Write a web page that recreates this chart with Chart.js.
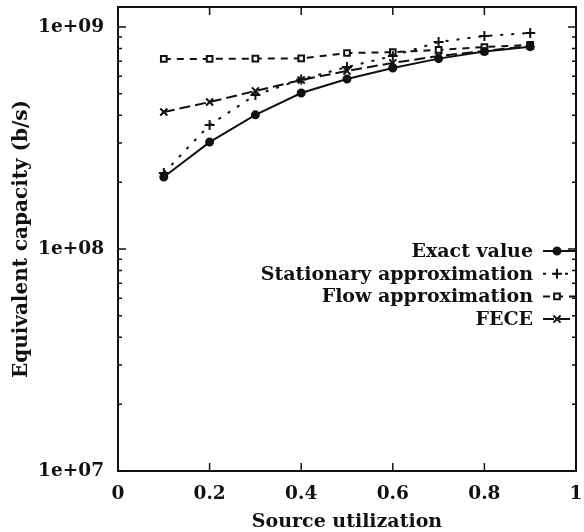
<!DOCTYPE html>
<html>
<head>
<meta charset="utf-8">
<script src="https://cdn.jsdelivr.net/npm/chart.js@4/dist/chart.umd.min.js"></script>
<style>
  html, body { margin: 0; padding: 0; background: #fff; }
  #wrap { width: 584px; height: 532px; }
</style>
</head>
<body>
<div id="wrap"><canvas id="capacityChart" width="584" height="532"></canvas></div>
<script>
// values
const utilization = [0.1, 0.2, 0.3, 0.4, 0.5, 0.6, 0.7, 0.8, 0.9];
const exactValue = [2.11e8, 3.03e8, 4.02e8, 5.04e8, 5.83e8, 6.53e8, 7.2e8, 7.75e8, 8.15e8];
const stationaryApprox = [2.2e8, 3.62e8, 4.94e8, 5.8e8, 6.6e8, 7.4e8, 8.56e8, 9.1e8, 9.4e8];
const flowApprox = [7.18e8, 7.18e8, 7.2e8, 7.22e8, 7.63e8, 7.7e8, 7.88e8, 8.12e8, 8.3e8];
const fece = [4.14e8, 4.59e8, 5.15e8, 5.77e8, 6.34e8, 6.89e8, 7.4e8, 7.8e8, 8.2e8];

const seriesNames = ['Exact value', 'Stationary approximation', 'Flow approximation', 'FECE'];
const xTicks = [0, 0.2, 0.4, 0.6, 0.8, 1];
const xTickLabels = ['0', '0.2', '0.4', '0.6', '0.8', '1'];
const yTicks = [1e7, 1e8, 1e9];
const yTickLabels = ['1e+07', '1e+08', '1e+09'];

const FONT = 'DejaVu Serif';
const INK = '#111';

function points(values) {
  return utilization.map((u, i) => ({ x: u, y: values[i] }));
}

function series(label, values, style, dash, radius, fill) {
  return {
    label,
    data: points(values),
    borderColor: INK,
    borderWidth: 2,
    borderDash: dash,
    pointStyle: style,
    pointRadius: radius,
    pointBorderWidth: 2,
    pointBackgroundColor: fill,
    pointBorderColor: INK,
    tension: 0
  };
}

// gnuplot-like frame with inward ticks and a right-aligned key
const framePlugin = {
  id: 'frame',
  afterDraw(chart) {
    const { ctx, chartArea: a, scales } = chart;
    const xs = scales.x, ys = scales.y;
    ctx.save();
    ctx.strokeStyle = INK;
    ctx.lineWidth = 2;
    ctx.setLineDash([]);
    ctx.strokeRect(a.left, a.top, a.right - a.left, a.bottom - a.top);

    ctx.lineWidth = 1.5;
    ctx.beginPath();
    xTicks.forEach(v => {
      const px = xs.getPixelForValue(v);
      ctx.moveTo(px, a.bottom); ctx.lineTo(px, a.bottom - 8);
      ctx.moveTo(px, a.top); ctx.lineTo(px, a.top + 8);
    });
    for (let d = 1e7; d < 1.3e9; d *= 10) {
      for (let m = 1; m <= 9; m++) {
        const v = d * m;
        if (v > ys.max) break;
        const py = ys.getPixelForValue(v);
        const len = m === 1 ? 8 : 4;
        ctx.moveTo(a.left, py); ctx.lineTo(a.left + len, py);
        ctx.moveTo(a.right, py); ctx.lineTo(a.right - len, py);
      }
    }
    ctx.stroke();

    // key
    const textRight = a.right - 43;
    const lineL = a.right - 33, lineR = a.right - 1;
    const y0 = ys.getPixelForValue(1e8) + 2;
    ctx.font = 'bold 19px "' + FONT + '"';
    ctx.textAlign = 'right';
    ctx.textBaseline = 'middle';
    chart.data.datasets.forEach((ds, i) => {
      const y = y0 + i * 22.7;
      ctx.fillStyle = INK;
      ctx.fillText(ds.label, textRight, y + 1);
      ctx.strokeStyle = INK;
      ctx.lineWidth = 2;
      ctx.setLineDash(ds.borderDash || []);
      ctx.beginPath();
      ctx.moveTo(lineL, y); ctx.lineTo(lineR, y);
      ctx.stroke();
      ctx.setLineDash([]);
      ctx.fillStyle = ds.pointBackgroundColor;
      Chart.helpers.drawPoint(ctx, {
        pointStyle: ds.pointStyle,
        radius: ds.pointRadius,
        rotation: 0,
        borderWidth: 2
      }, (lineL + lineR) / 2 - 2, y);
    });
    ctx.restore();
  }
};

new Chart(document.getElementById('capacityChart'), {
  type: 'line',
  data: {
    datasets: [
      series(seriesNames[0], exactValue, 'circle', [], 3.5, INK),
      series(seriesNames[1], stationaryApprox, 'cross', [3, 8], 5, INK),
      series(seriesNames[2], flowApprox, 'rect', [7, 6], 4, '#fff'),
      series(seriesNames[3], fece, 'crossRot', [11, 5], 5, INK)
    ]
  },
  options: {
    responsive: false,
    animation: false,
    layout: { padding: { top: 7, right: 8, left: 0, bottom: 0 } },
    plugins: {
      legend: { display: false },
      tooltip: { enabled: false }
    },
    scales: {
      x: {
        type: 'linear',
        min: 0,
        max: 1,
        afterBuildTicks(scale) { scale.ticks = xTicks.map(v => ({ value: v })); },
        afterFit(scale) {
          scale.height = 61;
          scale.paddingLeft = 0;
          scale.paddingRight = 0;
        },
        ticks: {
          color: INK,
          padding: 12,
          maxRotation: 0,
          font: { family: FONT, size: 18.5, weight: 'bold' },
          callback(value) {
            const i = xTicks.indexOf(value);
            return i >= 0 ? xTickLabels[i] : '';
          }
        },
        grid: { display: false, drawTicks: false },
        border: { display: false },
        title: {
          display: true,
          text: 'Source utilization',
          color: INK,
          padding: { top: 0, bottom: 0 },
          font: { family: FONT, size: 19, weight: 'bold', lineHeight: 1.0 }
        }
      },
      y: {
        type: 'logarithmic',
        min: 1e7,
        max: 1.23e9,
        afterBuildTicks(scale) { scale.ticks = yTicks.map(v => ({ value: v })); },
        afterFit(scale) {
          scale.width = 118;
          scale.paddingTop = 0;
          scale.paddingBottom = 0;
        },
        ticks: {
          color: INK,
          padding: 14,
          font: { family: FONT, size: 18.5, weight: 'bold' },
          callback(value) {
            const i = yTicks.indexOf(value);
            return i >= 0 ? yTickLabels[i] : '';
          }
        },
        grid: { display: false, drawTicks: false },
        border: { display: false },
        title: {
          display: true,
          text: 'Equivalent capacity (b/s)',
          color: INK,
          padding: { top: 10, bottom: 0 },
          font: { family: FONT, size: 20, weight: 'bold' }
        }
      }
    }
  },
  plugins: [framePlugin]
});
</script>
</body>
</html>
